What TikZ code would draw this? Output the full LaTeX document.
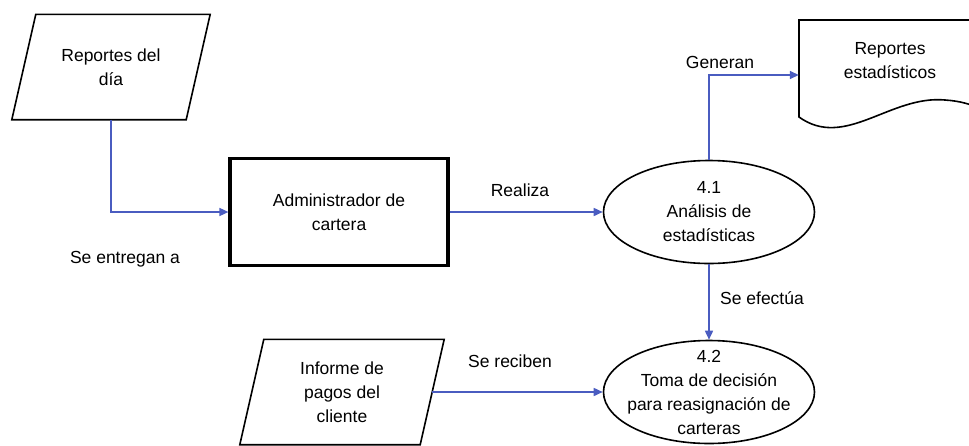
\documentclass[tikz,border=0pt]{standalone}
\usepackage{fontspec}
\setmainfont{Liberation Sans}
\usetikzlibrary{shapes.geometric,arrows.meta,calc}
\definecolor{flow}{HTML}{4A5CC0}
\tikzset{
  txt/.style={font=\fontsize{17.5}{24}\selectfont, align=center, inner sep=0pt},
  inshape/.style={txt, minimum width=#1, minimum height=105pt},
  outline/.style={draw=black, line width=1.6pt, line join=miter},
  entity/.style={txt, draw=black, line width=3.2pt, minimum width=218pt, minimum height=107pt},
  process/.style={ellipse, draw=black, line width=1.6pt, inner sep=0pt,
                  minimum width=211pt, minimum height=103pt},
  flowline/.style={draw=flow, line width=1.6pt, -{Triangle[length=9pt,width=8pt]}},
  lbl/.style={txt}
}
\begin{document}
\begin{tikzpicture}[x=1pt,y=-1pt]
\useasboundingbox (0,0) rectangle (969,445);
\clip (0,0) rectangle (969,445);

% input: daily reports
\node[inshape=174pt] (p1) at (111,67) {Reportes del\\día};
\draw[outline] ($(p1.north west)+(12,0)$) -- ($(p1.north east)+(12,0)$)
  -- ($(p1.south east)+(-12,0)$) -- ($(p1.south west)+(-12,0)$) -- cycle;

% portfolio administrator
\node[entity] (adm) at (339,212) {Administrador de\\cartera};

% processes (outline and caption as separate nodes so the size stays fixed)
\node[process] (e1) at (709,212) {};
\node[txt] (e1t) at (e1.center) {4.1\\Análisis de\\estadísticas};
\node[process] (e2) at (709,392) {};
\node[txt] (e2t) at (e2.center) {4.2\\Toma de decisión\\para reasignación de\\carteras};

% input: customer payments report
\node[inshape=180pt] (p2) at (342,392) {Informe de\\pagos del\\cliente};
\draw[outline] ($(p2.north west)+(12,0)$) -- ($(p2.north east)+(12,0)$)
  -- ($(p2.south east)+(-12,0)$) -- ($(p2.south west)+(-12,0)$) -- cycle;

% output document: statistical reports
\node[minimum width=182pt, minimum height=110pt, inner sep=0pt] (doc) at (890,75) {};
\draw[outline] (985,20) -- (799,20) -- (799,117)
  .. controls (845,150) and (890,95) .. (945,100)
  .. controls (960,101) and (970,104) .. (985,110);
\node[txt] (doct) at (890,61) {Reportes\\estadísticos};

% flows
\draw[flowline] (p1.south) |- (adm.west);
\draw[flowline] (adm.east) -- (e1.west);
\draw[flowline] (e1.north) |- (doc.west);
\draw[flowline] (e1.south) -- (e2.north);
\draw[flowline] (p2.east) -- (e2.west);

% flow labels
\node[lbl] (l1) at (125,259) {Se entregan a};
\node[lbl] (l2) at (520,190) {Realiza};
\node[lbl] (l3) at (720,62) {Generan};
\node[lbl] (l4) at (762,298) {Se efectúa};
\node[lbl] (l5) at (510,361) {Se reciben};
\end{tikzpicture}
\end{document}
